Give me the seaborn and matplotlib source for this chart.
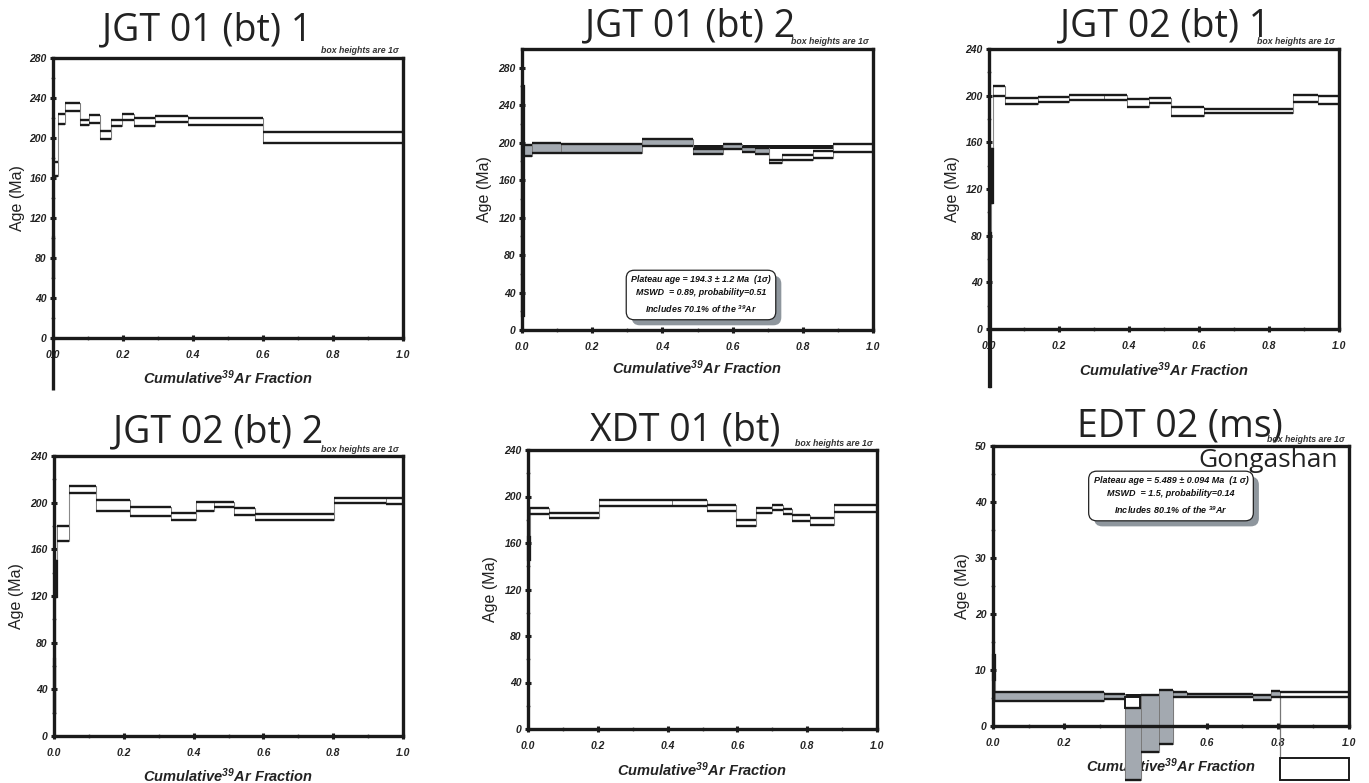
import numpy as np
import matplotlib
matplotlib.use("Agg")
import matplotlib.pyplot as plt
import matplotlib.patheffects as pe
import seaborn as sns

# ---------------- data ----------------
p1_title = "JGT 01 (bt) 1"
p1_edges = [0.0, 0.004, 0.014, 0.033, 0.078, 0.103, 0.133, 0.165, 0.197, 0.230, 0.290, 0.386, 0.600, 1.0]
p1_age = [81, 169, 219, 231, 215.5, 219, 203, 215, 221, 216, 219, 216.5, 200.5]
p1_sig = [20, 7, 5, 4, 2.5, 4, 4, 3, 3, 4, 3, 3.5, 5.5]
p1_plat = [0] * 13
p1_spine_ext = -52

p2_title = "JGT 01 (bt) 2"
p2_edges = [0.0, 0.007, 0.029, 0.112, 0.343, 0.488, 0.574, 0.626, 0.664, 0.705, 0.740, 0.828, 0.886, 1.0]
p2_age = [137.5, 191.5, 194.5, 194, 199.9, 190.5, 196, 192.5, 191, 180, 184, 187.5, 194.5]
p2_sig = [122.5, 5.5, 5.5, 5, 3.6, 2.5, 3, 2.5, 3, 2, 3, 3.5, 4.5]
p2_plat = [0, 1, 1, 1, 1, 1, 1, 1, 1, 0, 0, 0, 0]
p2_band = [0.488, 0.886, 193, 197]
p2_text = ["Plateau age = 194.3 \u00b1 1.2 Ma  (1\u03c3)",
           "MSWD  = 0.89, probability=0.51",
           "Includes 70.1% of the $^{39}$Ar"]

p3_title = "JGT 02 (bt) 1"
p3_edges = [0.0, 0.005, 0.012, 0.047, 0.140, 0.228, 0.328, 0.393, 0.457, 0.520, 0.615, 0.868, 0.941, 1.0]
p3_age = [16, 131, 204, 195.5, 197, 198.25, 198.5, 193.5, 196, 186.5, 187, 197.75, 196.5]
p3_sig = [66, 23, 4, 2.5, 2, 2.25, 2.5, 3.5, 2, 3.5, 2, 2.75, 3.5]
p3_plat = [0] * 13

p4_title = "JGT 02 (bt) 2"
p4_edges = [0.0, 0.004, 0.010, 0.042, 0.119, 0.219, 0.336, 0.406, 0.458, 0.515, 0.575, 0.801, 0.952, 1.0]
p4_age = [43, 134.5, 173.5, 211.25, 197.75, 192.5, 188, 196.75, 198.25, 192.6, 188, 202, 201.25]
p4_sig = [23, 15.5, 6.5, 2.75, 4.75, 3.5, 3, 3.75, 2.25, 2.9, 2.6, 2, 2.75]
p4_plat = [0] * 13

p5_title = "XDT 01 (bt)"
p5_edges = [0.0, 0.005, 0.060, 0.204, 0.413, 0.512, 0.595, 0.653, 0.699, 0.730, 0.756, 0.809, 0.876, 1.0]
p5_age = [155, 187.5, 183.85, 194.35, 194.55, 190.15, 177.1, 188.35, 190.9, 186.9, 181.5, 178.5, 189.7]
p5_sig = [10, 2.5, 2.15, 2.65, 2.85, 2.45, 2.6, 2.15, 2.1, 2.1, 2.5, 3.1, 2.9]
p5_plat = [0] * 13

p6_title = "EDT 02 (ms)"
p6_edges = [0.0, 0.007, 0.312, 0.370, 0.416, 0.466, 0.507, 0.545, 0.730, 0.782, 0.807, 1.0]
p6_age = [10.4, 5.3, 5.3, -3.2, 0.45, 1.55, 5.65, 5.45, 5.1, 5.7, 5.55]
p6_sig = [2.2, 0.8, 0.4, 6.5, 5.05, 4.85, 0.45, 0.35, 0.4, 0.5, 0.45]
p6_plat = [0, 1, 1, 1, 1, 1, 1, 1, 1, 1, 0]
p6_band = [0.37, 1.0, 5.15, 5.8]
p6_extra_left = [0.370, 0.807]
p6_extra_right = [0.414, 1.0]
p6_extra_lo = [3.3, -9.6]
p6_extra_hi = [5.2, -5.8]
p6_text = ["Plateau age = 5.489 \u00b1 0.094 Ma  (1 \u03c3)",
           "MSWD  = 1.5, probability=0.14",
           "Includes 80.1% of the $^{39}$Ar"]
p6_place = "Gongashan"

box_note = "box heights are 1\u03c3"
x_label = "Cumulative$^{39}$Ar Fraction"
y_label = "Age (Ma)"
x_ticks = [0.0, 0.2, 0.4, 0.6, 0.8, 1.0]

# ---------------- style ----------------
sns.set_theme(style="ticks")
plt.rcParams["font.family"] = ["Liberation Sans", "DejaVu Sans"]
plt.rcParams["mathtext.fontset"] = "custom"
plt.rcParams["mathtext.rm"] = "Liberation Sans:italic:bold"
plt.rcParams["mathtext.it"] = "Liberation Sans:italic:bold"
plt.rcParams["mathtext.bf"] = "Liberation Sans:italic:bold"
plt.rcParams["mathtext.default"] = "rm"

W, H = 1369, 783
fig = plt.figure(figsize=(W / 100, H / 100), dpi=100)
fig.patch.set_facecolor("white")

GRAY = "#a3a9b0"
SHADOW = "#8e969d"
INK = "#1a1a1a"


def make_axes(l, r, t, b):
    return fig.add_axes([l / W, 1 - b / H, (r - l) / W, (b - t) / H])


def draw_panel(ax, box, edges, age, sig, plat, ymax, ystep, title, title_px,
               ylab_px, xlab_py):
    l, r, t, b = box
    w, h = r - l, b - t
    edges = np.asarray(edges, float)
    age = np.asarray(age, float)
    sig = np.asarray(sig, float)
    lefts, rights = edges[:-1], edges[1:]
    widths = rights - lefts
    lo, hi = age - sig, age + sig
    faces = [GRAY if p else "white" for p in plat]
    ax.bar(lefts, hi - lo, width=widths, bottom=lo, align="edge", color=faces,
           edgecolor="#7a7a7a", linewidth=0.7, zorder=2, clip_on=False)
    narrow = widths <= 0.008
    if narrow.any():
        ax.bar(lefts[narrow], (hi - lo)[narrow], width=widths[narrow],
               bottom=lo[narrow], align="edge", color=INK,
               edgecolor=INK, linewidth=1.6, zorder=3, clip_on=False)
    ax.hlines(hi, lefts, rights, color=INK, lw=1.7, zorder=3, clip_on=False)
    ax.hlines(lo, lefts, rights, color=INK, lw=1.7, zorder=3, clip_on=False)
    for i in range(len(age) - 1):
        ax.vlines(edges[i + 1], min(lo[i], lo[i + 1]), max(hi[i], hi[i + 1]),
                  color="#8a8a8a", lw=0.8, zorder=1.8, clip_on=False)

    ax.set_xlim(0, 1)
    ax.set_ylim(0, ymax)
    ax.set_xticks(x_ticks)
    ax.set_xticklabels([f"{v:.1f}" for v in x_ticks])
    ax.set_xticks(np.arange(0.1, 1.0, 0.2), minor=True)
    yt = np.arange(0, ymax + 1e-9, ystep)
    yt = yt[yt < ymax - 1e-9] if ymax % ystep else yt
    ax.set_yticks(yt)
    ax.set_yticklabels([f"{v:g}" for v in yt])
    ax.set_yticks(np.arange(ystep / 2, ymax, ystep), minor=True)
    for s in ax.spines.values():
        s.set_linewidth(2.4)
        s.set_color(INK)
        s.set_visible(True)
    ax.tick_params(which="major", direction="inout", length=5, width=2.2,
                   color=INK, labelsize=7.5, pad=2)
    ax.tick_params(axis="x", which="major", pad=6)
    ax.tick_params(which="minor", direction="inout", length=3, width=1,
                   color="#666666")
    ax.tick_params(top=False, right=False, which="both")
    for lab in ax.get_xticklabels() + ax.get_yticklabels():
        lab.set_fontweight("bold")
        lab.set_fontstyle("italic")
        lab.set_color("#222222")
    ax.set_facecolor("white")
    ax.grid(False)

    ax.set_title(title, x=(title_px[0] - l) / w, y=(b - title_px[1]) / h,
                 pad=0, va="baseline", ha="center", fontsize=27,
                 fontfamily=["Open Sans", "DejaVu Sans"], color="#222222")
    ax.set_ylabel(y_label, fontsize=11.5, color="#222222", va="center")
    ax.yaxis.set_label_coords((ylab_px - l) / w, 0.5)
    ax.set_xlabel(x_label, fontsize=10.5, fontweight="bold", fontstyle="italic",
                  color="#222222", va="center")
    ax.xaxis.set_label_coords(0.5, (b - xlab_py) / h)
    ax.text(1 - 4 / w, 1 + 7 / h, box_note, transform=ax.transAxes,
            ha="right", va="center", fontsize=6.3, fontweight="bold",
            fontstyle="italic", color="#333333", zorder=5)


def plateau_box(ax, lines, xf, yf, size):
    txt = "\n".join(lines)
    t = ax.text(xf, yf, txt, transform=ax.transAxes, ha="center", va="center",
                fontsize=size, fontweight="bold", fontstyle="italic",
                linespacing=1.6, multialignment="center", color="#111111",
                zorder=7,
                bbox=dict(boxstyle="round,pad=0.55,rounding_size=0.9",
                          fc="white", ec="#222222", lw=0.9))
    t.get_bbox_patch().set_path_effects([
        pe.SimplePatchShadow(offset=(4, -4), shadow_rgbFace=SHADOW, alpha=1.0),
        pe.Normal()])


boxes = {
    1: (53, 403, 58, 338),
    2: (522, 873, 49, 330),
    3: (989, 1339, 49, 329),
    4: (54, 403, 456, 736),
    5: (528, 877, 450, 729),
    6: (993, 1349, 446, 726),
}

ax1 = make_axes(*boxes[1])
draw_panel(ax1, boxes[1], p1_edges, p1_age, p1_sig, p1_plat, 280, 40, p1_title,
           (207, 40), 17, 378)
ax1.vlines(0, p1_spine_ext, 0, color=INK, lw=2.4, clip_on=False, zorder=4)

ax2 = make_axes(*boxes[2])
ax2.fill_between([p2_band[0], p2_band[1]], p2_band[2], p2_band[3],
                 color=INK, lw=0, zorder=1.5)
draw_panel(ax2, boxes[2], p2_edges, p2_age, p2_sig, p2_plat, 300, 40, p2_title,
           (690, 36), 485, 368)
plateau_box(ax2, p2_text, (701 - 522) / 351, (330 - 295) / 281, 6.4)

ax3 = make_axes(*boxes[3])
draw_panel(ax3, boxes[3], p3_edges, p3_age, p3_sig, p3_plat, 240, 40, p3_title,
           (1165, 36), 952, 370)

ax4 = make_axes(*boxes[4])
draw_panel(ax4, boxes[4], p4_edges, p4_age, p4_sig, p4_plat, 240, 40, p4_title,
           (218, 442), 17, 776)

ax5 = make_axes(*boxes[5])
draw_panel(ax5, boxes[5], p5_edges, p5_age, p5_sig, p5_plat, 240, 40, p5_title,
           (685, 440), 490, 770)

ax6 = make_axes(*boxes[6])
ax6.fill_between([p6_band[0], p6_band[1]], p6_band[2], p6_band[3],
                 color=INK, lw=0, zorder=1.5)
draw_panel(ax6, boxes[6], p6_edges, p6_age, p6_sig, p6_plat, 50, 10, p6_title,
           (1180, 436), 962, 766)
ex_l = np.asarray(p6_extra_left)
ex_r = np.asarray(p6_extra_right)
ex_lo = np.asarray(p6_extra_lo)
ex_hi = np.asarray(p6_extra_hi)
ax6.bar(ex_l, ex_hi - ex_lo, width=ex_r - ex_l, bottom=ex_lo, align="edge",
        color="white", edgecolor=INK, linewidth=1.4, zorder=2.5,
        clip_on=False)
ax6.vlines(ex_l[1], ex_hi[1], ex_hi[0], color="#777777", lw=0.9, zorder=1.9,
           clip_on=False)
plateau_box(ax6, p6_text, (1171 - 993) / 356, (726 - 496) / 280, 6.5)
ax6.text((1268 - 993) / 356, (726 - 460) / 280, p6_place, transform=ax6.transAxes,
         ha="center", va="center", fontsize=19,
         fontfamily=["Open Sans", "DejaVu Sans"], color="#222222", zorder=8)

fig.savefig("out.png", dpi=100, facecolor="white")
